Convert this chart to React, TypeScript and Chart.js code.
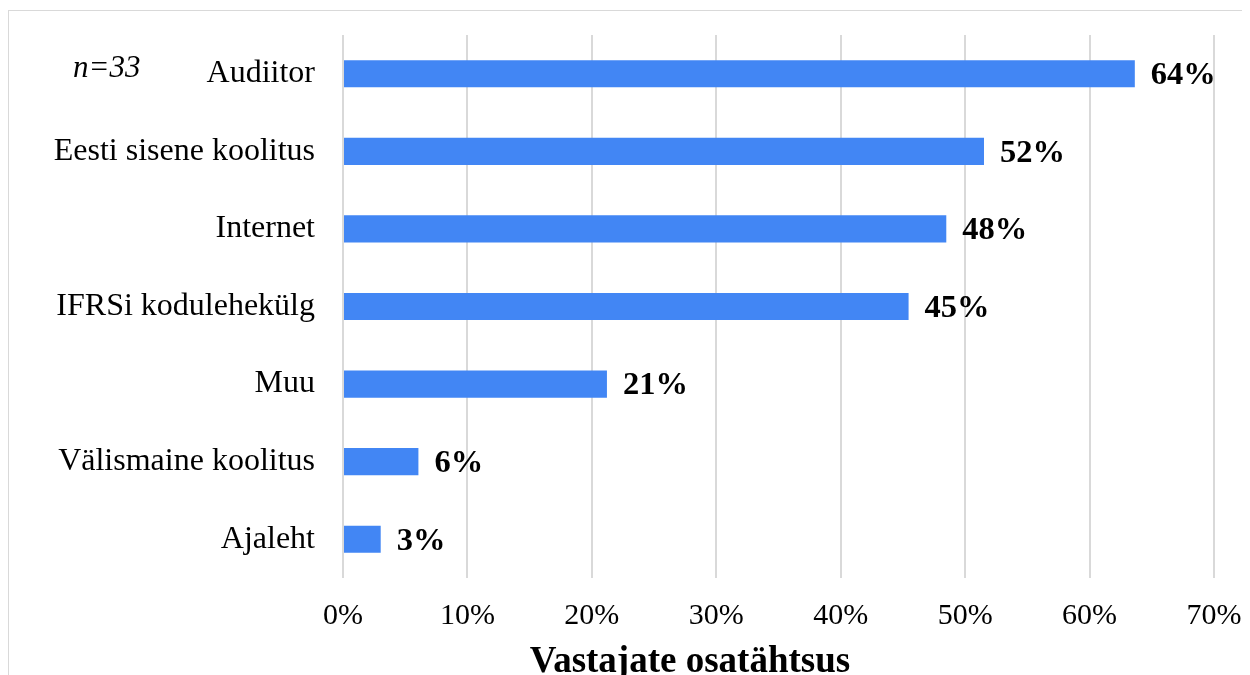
import React, { useEffect, useRef } from "react";
import { Chart, registerables } from "chart.js";

Chart.register(...registerables);

const categories = [
  "Audiitor",
  "Eesti sisene koolitus",
  "Internet",
  "IFRSi kodulehekülg",
  "Muu",
  "Välismaine koolitus",
  "Ajaleht",
];
const counts = [21, 17, 16, 15, 7, 2, 1];
const total = 33;
const shares = counts.map((c) => (c / total) * 100);
const xTicks = [0, 10, 20, 30, 40, 50, 60, 70];
const axisTitle = "Vastajate osatähtsus";
const note = "n=33";

const FONT = "'Liberation Serif', 'Times New Roman', serif";

const valueLabels = {
  id: "valueLabels",
  afterDatasetsDraw(chart: any) {
    const ctx = chart.ctx;
    const meta = chart.getDatasetMeta(0);
    ctx.save();
    ctx.font = `bold 32.5px ${FONT}`;
    ctx.fillStyle = "#000";
    ctx.textBaseline = "middle";
    ctx.textAlign = "left";
    meta.data.forEach((bar: any, i: number) => {
      ctx.fillText(`${Math.round(shares[i])}%`, bar.x + 16, bar.y + 2);
    });
    ctx.restore();
  },
};

const extraText = {
  id: "extraText",
  afterDraw(chart: any) {
    const ctx = chart.ctx;
    ctx.save();
    ctx.fillStyle = "#000";
    ctx.font = `italic 31px ${FONT}`;
    ctx.textAlign = "left";
    ctx.textBaseline = "alphabetic";
    ctx.fillText(note, 64, 66);
    ctx.font = `bold 37px ${FONT}`;
    ctx.textAlign = "center";
    ctx.textBaseline = "middle";
    ctx.fillText(axisTitle, chart.width / 2, 651);
    ctx.restore();
  },
};

export default function App() {
  const ref = useRef<HTMLCanvasElement | null>(null);
  useEffect(() => {
    if (!ref.current) return;
    const chart = new Chart(ref.current, {
      type: "bar",
      data: {
        labels: categories,
        datasets: [
          {
            data: shares,
            backgroundColor: "#4286f4",
            borderWidth: 0,
            categoryPercentage: 1,
            barPercentage: 0.35,
          },
        ],
      },
      options: {
        indexAxis: "y",
        animation: false,
        responsive: false,
        maintainAspectRatio: false,
        layout: { padding: { top: 24, right: 157, left: 0, bottom: 0 } },
        plugins: {
          legend: { display: false },
          tooltip: { enabled: false },
          title: { display: false },
        },
        scales: {
          x: {
            min: 0,
            max: 70,
            afterBuildTicks: (scale: any) => {
              scale.ticks = xTicks.map((v) => ({ value: v }));
            },
            afterFit: (scale: any) => {
              scale.height = 133;
              scale.paddingLeft = 0;
              scale.paddingRight = 0;
            },
            grid: {
              color: "#d9d9d9",
              lineWidth: 2,
              drawTicks: false,
            },
            border: { display: false },
            ticks: {
              padding: 20,
              color: "#000",
              font: { family: FONT, size: 30 },
              callback: (v: any) => `${v}%`,
              maxRotation: 0,
            },
          },
          y: {
            afterFit: (scale: any) => {
              scale.width = 334;
              scale.paddingTop = 0;
              scale.paddingBottom = 0;
            },
            grid: { display: false, drawTicks: false },
            border: { display: false },
            ticks: {
              padding: 28,
              color: "#000",
              font: { family: FONT, size: 32 },
            },
          },
        },
      },
      plugins: [valueLabels, extraText],
    });
    return () => chart.destroy();
  }, []);

  return (
    <div
      style={{
        marginTop: 2,
        width: 1362,
        height: 700,
        border: "1px solid #d9d9d9",
        background: "#fff",
      }}
    >
      <canvas ref={ref} width={1362} height={700} style={{ display: "block" }} />
    </div>
  );
}
